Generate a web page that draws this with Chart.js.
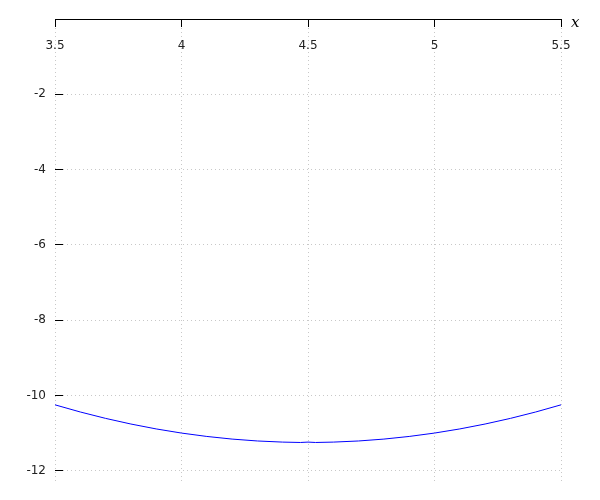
<!DOCTYPE html>
<html>
<head>
<meta charset="utf-8">
<script src="https://cdn.jsdelivr.net/npm/chart.js@4/dist/chart.umd.min.js"></script>
<style>
  html, body { margin: 0; padding: 0; background: #fff; }
  #wrap { width: 600px; height: 500px; }
</style>
</head>
<body>
<div id="wrap"><canvas id="curveChart"></canvas></div>
<script>
// values
const xValues = [3.5, 3.6, 3.7, 3.8, 3.9, 4.0, 4.1, 4.2, 4.3, 4.4, 4.47, 4.5, 4.53, 4.6, 4.7, 4.8, 4.9, 5.0, 5.1, 5.2, 5.3, 5.4, 5.5];
const yValues = [-10.25, -10.44, -10.61, -10.76, -10.89, -11.0, -11.09, -11.16, -11.21, -11.24, -11.25, -11.24, -11.25, -11.24, -11.21, -11.16, -11.09, -11.0, -10.89, -10.76, -10.61, -10.44, -10.25];
const xTicks = [3.5, 4, 4.5, 5, 5.5];
const xTickLabels = ['3.5', '4', '4.5', '5', '5.5'];
const yTicks = [-12, -10, -8, -6, -4, -2, 0];
const xAxisTitle = 'x';

// the top axis keeps its labels under the line, inside the plot
const topAxisLabels = {
    id: 'topAxisLabels',
    afterDraw(chart) {
        const xs = chart.scales.x;
        const ctx = chart.ctx;
        ctx.save();
        ctx.font = '12px "DejaVu Sans"';
        ctx.fillStyle = '#222';
        ctx.textAlign = 'center';
        ctx.textBaseline = 'middle';
        xTicks.forEach((v, i) => {
            ctx.fillText(xTickLabels[i], xs.getPixelForValue(v), xs.bottom + 27);
        });
        ctx.font = 'italic 15px "DejaVu Serif"';
        ctx.fillStyle = '#000';
        ctx.textAlign = 'left';
        ctx.fillText(xAxisTitle, xs.right + 10, xs.bottom + 4);
        ctx.restore();
    }
};

const ctx = document.getElementById('curveChart').getContext('2d');
new Chart(ctx, {
    type: 'line',
    data: {
        datasets: [{
            data: xValues.map((x, i) => ({ x: x, y: yValues[i] })),
            borderColor: '#0000ff',
            borderWidth: 1,
            pointRadius: 0,
            fill: false,
            tension: 0
        }]
    },
    options: {
        responsive: true,
        maintainAspectRatio: false,
        animation: false,
        layout: { padding: { top: 1, left: 0, right: 39, bottom: 18 } },
        plugins: {
            legend: { display: false },
            tooltip: { enabled: false }
        },
        scales: {
            x: {
                type: 'linear',
                position: 'top',
                min: 3.5,
                max: 5.5,
                afterBuildTicks: (scale) => { scale.ticks = xTicks.map(v => ({ value: v })); },
                afterFit: (scale) => { scale.height = 18; },
                ticks: { display: false },
                grid: {
                    color: '#c8c8c8',
                    tickColor: '#000',
                    tickLength: -8,
                    lineWidth: 1
                },
                border: { display: true, color: '#000', width: 1, dash: [1, 3] }
            },
            y: {
                type: 'linear',
                min: -12.3,
                max: 0,
                afterBuildTicks: (scale) => { scale.ticks = yTicks.map(v => ({ value: v })); },
                afterFit: (scale) => {
                    scale.width = 55;
                    scale.paddingTop = 0;
                    scale.paddingBottom = 0;
                },
                ticks: {
                    padding: 17,
                    color: '#222',
                    font: { family: 'DejaVu Sans', size: 12 },
                    callback: (v) => (v === 0 ? '' : String(v))
                },
                grid: {
                    color: '#c8c8c8',
                    tickColor: '#000',
                    tickLength: -8,
                    lineWidth: 1
                },
                border: { display: false, dash: [1, 3] }
            }
        }
    },
    plugins: [topAxisLabels]
});
</script>
</body>
</html>
